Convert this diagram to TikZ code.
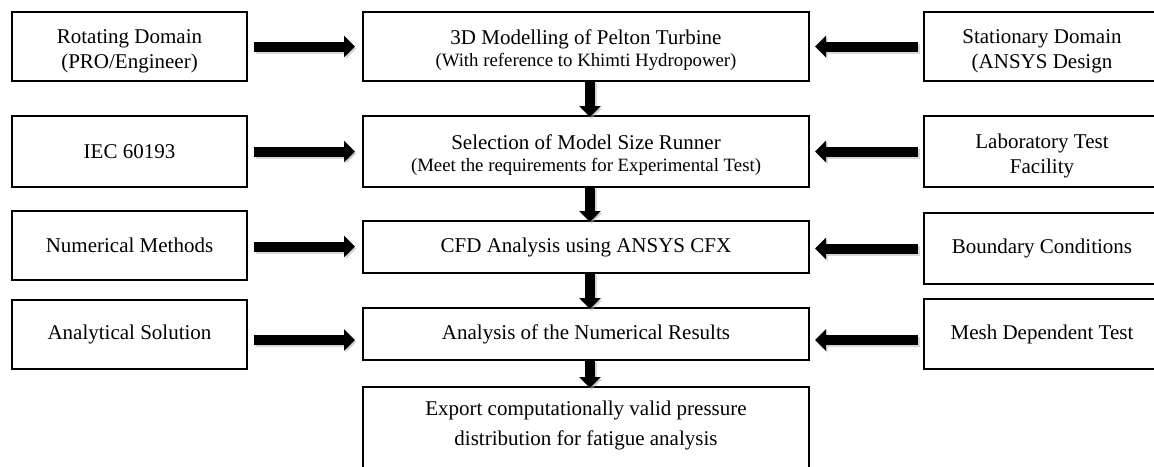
\documentclass[tikz,border=0pt]{standalone}
\usepackage{fontspec}
\setmainfont{Liberation Serif}
\usetikzlibrary{arrows.meta}
\tikzset{
  box/.style={draw, line width=1.6pt, outer sep=0pt, inner sep=0pt, align=center,
    font=\fontsize{21}{25}\selectfont},
  arr/.style={line width=10pt, -{Triangle[width=21pt,length=11pt]}},
  arrshadow/.style={arr, draw=black!35, opacity=0.45, transform canvas={shift={(1.5pt,-2pt)}}},
}
\newcommand\flowarrow[2]{\draw[arrshadow] #1 -- #2; \draw[arr] #1 -- #2;}
\newcommand\sm{\fontsize{18.8}{22}\selectfont}
\newcommand\tp[1]{\rule{0pt}{#1}}
\begin{document}
\begin{tikzpicture}[x=1pt,y=-1pt]
\useasboundingbox (0,0) rectangle (1154,466);
\clip (0,0) rectangle (1154,466);
% left column
\node[box, minimum width=235pt, minimum height=69pt] (L1) at (129.5,46.5) {\tp{23pt}Rotating Domain\\(PRO/Engineer)};
\node[box, minimum width=235pt, minimum height=71pt] (L2) at (129.5,151.5) {IEC 60193};
\node[box, minimum width=235pt, minimum height=69pt] (L3) at (129.5,245.5) {Numerical Methods};
\node[box, minimum width=235pt, minimum height=69pt] (L4) at (129.5,334.5) {Analytical Solution};
% centre column
\node[box, minimum width=446pt, minimum height=69pt] (C1) at (586,46.5) {\tp{22pt}3D Modelling of Pelton Turbine\\[-3pt]{\sm (With reference to Khimti Hydropower)}};
\node[box, minimum width=446pt, minimum height=71pt] (C2) at (586,151.5) {\tp{22pt}Selection of Model Size Runner\\[-3pt]{\sm (Meet the requirements for Experimental Test)}};
\node[box, minimum width=446pt, minimum height=52pt] (C3) at (586,247) {CFD Analysis using ANSYS CFX};
\node[box, minimum width=446pt, minimum height=52pt] (C4) at (586,334) {Analysis of the Numerical Results};
\node[box, minimum width=446pt, minimum height=100pt] (C5) at (586,437) {};
\node[align=center, font=\fontsize{21}{30}\selectfont, inner sep=0pt] (C5t) at (586,425) {Export computationally valid pressure\\distribution for fatigue analysis};
% right column
\node[box, minimum width=236pt, minimum height=69pt] (R1) at (1042,46.5) {\tp{23pt}Stationary Domain\\(ANSYS Design};
\node[box, minimum width=236pt, minimum height=71pt] (R2) at (1042,151.5) {\tp{23pt}Laboratory Test\\Facility};
\node[box, minimum width=236pt, minimum height=71pt] (R3) at (1042,248.5) {Boundary Conditions};
\node[box, minimum width=236pt, minimum height=70pt] (R4) at (1042,334) {Mesh Dependent Test};
% horizontal arrows
\flowarrow{([xshift=7pt]L1.east)}{([xshift=-8pt]C1.west)}
\flowarrow{([xshift=7pt]L2.east)}{([xshift=-8pt]C2.west)}
\flowarrow{([xshift=7pt,yshift=-1pt]L3.east)}{([xshift=-8pt,yshift=-1pt]C3.west |- L3.east)}
\flowarrow{([xshift=7pt,yshift=-5.5pt]L4.east)}{([xshift=-8pt,yshift=-5.5pt]C4.west |- L4.east)}
\flowarrow{([xshift=-6pt]R1.west)}{([xshift=6pt]C1.east)}
\flowarrow{([xshift=-6pt]R2.west)}{([xshift=6pt]C2.east)}
\flowarrow{([xshift=-6pt]R3.west)}{([xshift=6pt]C3.east |- R3.west)}
\flowarrow{([xshift=-6pt,yshift=-6pt]R4.west)}{([xshift=6pt,yshift=-6pt]C4.east)}
% vertical arrows
\flowarrow{([xshift=4pt]C1.south)}{([xshift=4pt,yshift=-1pt]C2.north)}
\flowarrow{([xshift=4pt]C2.south)}{([xshift=4pt,yshift=-1pt]C3.north)}
\flowarrow{([xshift=4pt]C3.south)}{([xshift=4pt,yshift=-1pt]C4.north)}
\flowarrow{([xshift=4pt]C4.south)}{([xshift=4pt,yshift=-1pt]C5.north)}
\end{tikzpicture}
\end{document}
